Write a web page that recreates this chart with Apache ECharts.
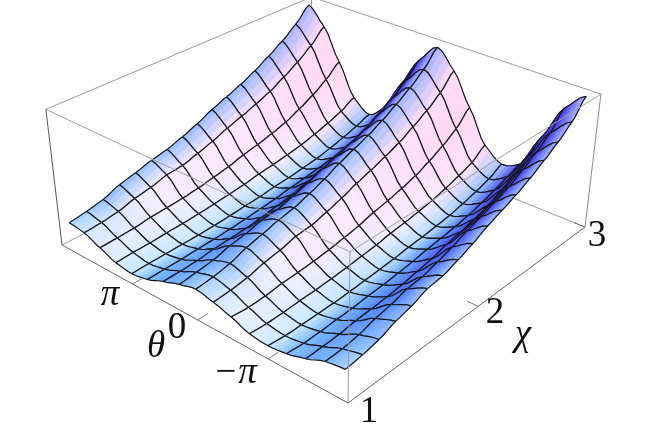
<!DOCTYPE html>
<html>
<head>
<meta charset="utf-8">
<style>
  html, body { margin: 0; padding: 0; background: #fff; }
  #chart { width: 653px; height: 431px; }
</style>
</head>
<body>
<div id="chart"></div>
<script src="https://cdn.jsdelivr.net/npm/echarts@6/dist/echarts.min.js"></script>
<script>
// mesh lines of the surface
var chiValues = [1, 1.118, 1.235, 1.353, 1.47, 1.588, 1.706, 1.824, 1.941, 2.059, 2.176, 2.294, 2.412, 2.529, 2.647, 2.765, 2.882]
var thetaSteps = [-8, -7, -6, -5, -4, -3, -2, -1, 0, 1, 2, 3, 4, 5, 6, 7, 8] // units of pi/4
// height, one row per chi, one column per theta
var h00 = [.224, .204, .149, .111, .095, .109, .160, .198, .226, .194, .150, .099, .078, .097, .147, .199, .216]
var h01 = [.240, .209, .152, .103, .085, .103, .152, .209, .240, .209, .152, .103, .082, .103, .152, .209, .235]
var h02 = [.265, .227, .159, .106, .085, .106, .159, .227, .265, .227, .159, .106, .085, .106, .159, .227, .262]
var h03 = [.310, .261, .175, .114, .088, .114, .175, .261, .310, .261, .175, .114, .088, .114, .175, .261, .310]
var h04 = [.340, .283, .183, .119, .090, .119, .183, .283, .340, .283, .183, .119, .090, .119, .183, .283, .340]
var h05 = [.385, .317, .193, .132, .096, .128, .193, .316, .375, .316, .193, .128, .096, .128, .193, .316, .375]
var h06 = [.400, .329, .208, .139, .105, .139, .208, .329, .400, .329, .208, .139, .105, .139, .208, .329, .400]
var h07 = [.440, .362, .229, .152, .115, .152, .229, .362, .440, .362, .229, .152, .115, .152, .229, .362, .440]
var h08 = [.485, .399, .251, .166, .125, .166, .251, .399, .485, .399, .251, .166, .125, .166, .251, .399, .485]
var h09 = [.540, .444, .284, .186, .140, .186, .284, .444, .540, .444, .284, .186, .140, .186, .284, .444, .540]
var h10 = [.585, .481, .307, .200, .150, .200, .307, .481, .585, .481, .307, .200, .150, .200, .307, .481, .585]
var h11 = [.630, .523, .337, .218, .165, .218, .337, .523, .630, .523, .337, .218, .165, .218, .337, .523, .630]
var h12 = [.685, .569, .372, .238, .180, .238, .372, .569, .685, .569, .372, .238, .180, .238, .372, .569, .685]
var h13 = [.750, .630, .423, .268, .205, .268, .423, .630, .750, .630, .423, .268, .205, .268, .423, .630, .750]
var h14 = [.820, .697, .481, .302, .235, .302, .481, .697, .820, .697, .481, .302, .235, .302, .481, .697, .820]
var h15 = [.905, .778, .553, .343, .270, .343, .553, .778, .905, .778, .553, .343, .270, .343, .553, .778, .905]
var h16 = [1.03, .900, .640, .380, .325, .420, .660, .890, 1.02, .884, .660, .420, .310, .400, .644, .880, 1.01]
var heights = [h00, h01, h02, h03, h04, h05, h06, h07, h08, h09, h10, h11, h12, h13, h14, h15, h16]

var thetaTicks = [-3.14159, 0, 3.14159]
var chiTicks = [1, 2, 3]

var chiRange = [1, 3]
var thetaRange = [-6.4, 6.85]

var chart = echarts.init(document.getElementById('chart'), null, { renderer: 'canvas' })

// camera: maps unit box coords to the page plane
function project(u, v, w) {
  var d = 1 + .2188 * u + .187 * v - .0694 * w
  return [
    (348 + 365 * u - 274.4 * v - 22.3 * w) / d,
    (403 - 126.3 * u - 112.2 * v - 168.6 * w) / d
  ]
}
function depth(u, v, w) {
  return 1 + .2188 * u + .187 * v - .0694 * w
}
function uOf(chi) { return (chi - chiRange[0]) / (chiRange[1] - chiRange[0]) }
function vOf(step) { return (step * Math.PI / 4 - thetaRange[0]) / (thetaRange[1] - thetaRange[0]) }

var nI = chiValues.length
var nK = thetaSteps.length

function clampI(i) { return Math.max(0, Math.min(nI - 1, i)) }
function clampK(k) { return Math.max(0, Math.min(nK - 1, k)) }

// hermite with shortened tangents, the mesh in the picture is only slightly rounded
var TENSION = .6
function cr(a, b, c, d, t) {
  var m1 = TENSION * (c - a) / 2
  var m2 = TENSION * (d - b) / 2
  var t2 = t * t, t3 = t2 * t
  return (2 * t3 - 3 * t2 + 1) * b + (t3 - 2 * t2 + t) * m1 + (-2 * t3 + 3 * t2) * c + (t3 - t2) * m2
}
// smooth height inside a cell
function heightAt(i, k, fi, fk) {
  var col = []
  for (var n = -1; n <= 2; n++) {
    var row = heights[clampI(i + n)]
    col.push(cr(row[clampK(k - 1)], row[k], row[clampK(k + 1)], row[clampK(k + 2)], fk))
  }
  return cr(col[0], col[1], col[2], col[3], fi)
}

function mix(a, b, t) {
  return [a[0] + (b[0] - a[0]) * t, a[1] + (b[1] - a[1]) * t, a[2] + (b[2] - a[2]) * t]
}
var shadeStops = [
  [-3, [65, 55, 225]],
  [-2.2, [72, 80, 242]],
  [-1.3, [85, 140, 255]],
  [-.5, [125, 188, 255]],
  [0, [205, 235, 255]],
  [.5, [222, 239, 255]],
  [1.2, [240, 238, 255]],
  [2, [252, 232, 255]],
  [3.2, [255, 218, 242]]
]
// colour of a mesh vertex from the slopes around it
function vertexColor(i, k) {
  var kUp = k === nK - 1 ? 1 : k + 1
  var kDown = k === 0 ? nK - 2 : k - 1
  var s = (heights[i][kUp] - heights[i][kDown]) / (2 * (vOf(thetaSteps[1]) - vOf(thetaSteps[0])))
  var p = (heights[clampI(i + 1)][k] - heights[clampI(i - 1)][k]) / ((clampI(i + 1) - clampI(i - 1)) * .0588)
  var last = shadeStops.length - 1
  var c = shadeStops[0][1]
  if (s >= shadeStops[last][0]) c = shadeStops[last][1]
  else for (var n = 0; n < last; n++) {
    if (s >= shadeStops[n][0] && s < shadeStops[n + 1][0]) {
      c = mix(shadeStops[n][1], shadeStops[n + 1][1], (s - shadeStops[n][0]) / (shadeStops[n + 1][0] - shadeStops[n][0]))
    }
  }
  var t = Math.min(1, p / .6) * Math.max(0, 1 - Math.abs(s) / 1.2)
  var ridge = mix([135, 195, 255], [165, 175, 255], Math.min(1, p / 1.6))
  return mix(c, ridge, Math.max(0, t))
}
var vertexColors = heights.map(function (row, i) {
  return row.map(function (_, k) { return vertexColor(i, k) })
})

var SUB = 4
function renderCell(params, api) {
  var i = api.value(0)
  var k = api.value(1)
  var u0 = uOf(chiValues[i]), u1 = uOf(chiValues[i + 1])
  var v0 = vOf(thetaSteps[k]), v1 = vOf(thetaSteps[k + 1])
  var pts = []
  for (var a = 0; a <= SUB; a++) {
    pts.push([])
    for (var b = 0; b <= SUB; b++) {
      var fi = a / SUB, fk = b / SUB
      var p = project(u0 + (u1 - u0) * fi, v0 + (v1 - v0) * fk, heightAt(i, k, fi, fk))
      pts[a].push(api.coord(p))
    }
  }
  var children = []
  for (a = 0; a < SUB; a++) {
    for (b = 0; b < SUB; b++) {
      var fa = (a + .5) / SUB, fb = (b + .5) / SUB
      var c = mix(
        mix(vertexColors[i][k], vertexColors[i][k + 1], fb),
        mix(vertexColors[i + 1][k], vertexColors[i + 1][k + 1], fb),
        fa
      )
      var fill = 'rgb(' + Math.round(c[0]) + ',' + Math.round(c[1]) + ',' + Math.round(c[2]) + ')'
      children.push({
        type: 'polygon',
        shape: { points: [pts[a][b], pts[a][b + 1], pts[a + 1][b + 1], pts[a + 1][b]] },
        style: { fill: fill, stroke: fill, lineWidth: .6 }
      })
    }
  }
  var sideA = [], sideB = [], sideC = [], sideD = []
  for (a = 0; a <= SUB; a++) {
    sideA.push(pts[a][0])
    sideB.push(pts[a][SUB])
    sideC.push(pts[0][a])
    sideD.push(pts[SUB][a])
  }
  ;[sideA, sideB, sideC, sideD].forEach(function (line) {
    children.push({
      type: 'polyline',
      shape: { points: line },
      style: { fill: null, stroke: '#141418', lineWidth: 1.2 }
    })
  })
  return { type: 'group', children: children }
}

var cells = []
for (var ci = 0; ci < nI - 1; ci++) {
  for (var ck = 0; ck < nK - 1; ck++) {
    var mid = (heights[ci][ck] + heights[ci + 1][ck + 1]) / 2
    cells.push([ci, ck, depth(uOf(chiValues[ci]), vOf(thetaSteps[ck]), mid)])
  }
}
cells.sort(function (a, b) { return b[2] - a[2] })

// box edges, each one [u, v, w, u, v, w, colour]
var backEdges = [
  [0, 1, 1, 1, 1, 1, '#999999'],
  [1, 1, 1, 1, 0, 1, '#999999'],
  [0, 1, 0, 1, 1, 0, '#999999'],
  [1, 0, 0, 1, 1, 0, '#999999'],
  [1, 1, 0, 1, 1, 1, '#999999']
]
var frontEdges = [
  [0, 1, 1, 0, 0, 1, '#a0a0a0'],
  [0, 0, 1, 1, 0, 1, '#a0a0a0'],
  [0, 0, 0, 0, 0, 1, '#999999'],
  [0, 1, 0, 0, 1, 1, '#555555'],
  [1, 0, 0, 1, 0, 1, '#8c8c8c'],
  [0, 0, 0, 0, 1, 0, '#666666'],
  [0, 0, 0, 1, 0, 0, '#666666']
]
var tickEdges = []
thetaTicks.forEach(function (t) {
  var v = (t - thetaRange[0]) / (thetaRange[1] - thetaRange[0])
  tickEdges.push([0, v, 0, .035, v, 0, '#777777'])
})
chiTicks.forEach(function (c) {
  var u = uOf(c)
  tickEdges.push([u, 0, 0, u, .035, 0, '#777777'])
})

function renderEdge(params, api) {
  var a = project(api.value(0), api.value(1), api.value(2))
  var b = project(api.value(3), api.value(4), api.value(5))
  var p = api.coord(a), q = api.coord(b)
  return {
    type: 'line',
    shape: { x1: p[0], y1: p[1], x2: q[0], y2: q[1] },
    style: { stroke: api.value(6), lineWidth: 1 }
  }
}

var labelFont = '"Liberation Serif", "DejaVu Serif", serif'
var tickLabels = [
  ['π', 110, 295, 'italic'],
  ['0', 177, 328, 'normal'],
  ['−π', 235, 373, 'italic'],
  ['θ', 156, 347, 'italic'],
  ['1', 369, 412, 'normal'],
  ['2', 495, 313, 'normal'],
  ['3', 597, 236, 'normal'],
  ['χ', 523, 335, 'italic']
]

function edgeSeries(list, z) {
  return {
    type: 'custom',
    coordinateSystem: 'cartesian2d',
    renderItem: renderEdge,
    dimensions: ['a', 'b', 'c', 'd', 'e', 'f', { name: 'color', type: 'ordinal' }],
    encode: { x: 0, y: 1 },
    data: list,
    silent: true,
    clip: false,
    z: z,
    animation: false
  }
}

chart.setOption({
  animation: false,
  backgroundColor: '#fff',
  tooltip: { show: false },
  grid: { left: 0, right: 0, top: 0, bottom: 0 },
  xAxis: { type: 'value', min: 0, max: 653, show: false },
  yAxis: { type: 'value', min: 0, max: 431, inverse: true, show: false },
  series: [
    edgeSeries(backEdges, 1),
    {
      type: 'custom',
      coordinateSystem: 'cartesian2d',
      renderItem: renderCell,
      encode: { x: 0, y: 1 },
      data: cells,
      progressive: 0,
      silent: true,
      clip: false,
      z: 2,
      animation: false
    },
    edgeSeries(frontEdges.concat(tickEdges), 3),
    {
      type: 'custom',
      coordinateSystem: 'cartesian2d',
      renderItem: function (params, api) {
        var item = tickLabels[params.dataIndex]
        var p = api.coord([item[1], item[2]])
        return {
          type: 'text',
          x: p[0],
          y: p[1],
          style: {
            text: item[0],
            font: item[3] + ' 37px ' + labelFont,
            fill: '#111',
            align: 'center',
            verticalAlign: 'middle'
          }
        }
      },
      encode: { x: 1, y: 2 },
      data: tickLabels.map(function (t, n) { return [n, t[1], t[2]] }),
      silent: true,
      clip: false,
      z: 4,
      animation: false
    }
  ]
})
</script>
</body>
</html>
